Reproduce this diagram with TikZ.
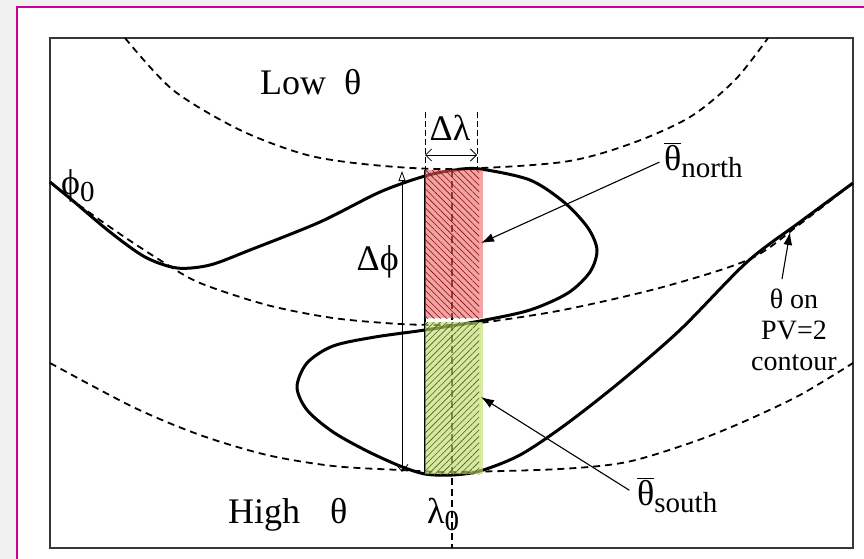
\documentclass[tikz,border=0pt]{standalone}
\usepackage{fontspec}
\setmainfont{Liberation Serif}
\usetikzlibrary{arrows.meta}
\usetikzlibrary{patterns.meta}
\definecolor{pagegrey}{RGB}{240,240,240}
\definecolor{pageedge}{RGB}{204,0,153}
\definecolor{frameline}{RGB}{55,55,55}
\definecolor{northfill}{RGB}{238,100,100}
\definecolor{northhatch}{RGB}{130,15,15}
\definecolor{southfill}{RGB}{195,222,110}
\definecolor{southhatch}{RGB}{75,95,25}
\tikzset{
	mydash/.style={dashed, dash pattern=on 7pt off 5pt, line width=1.8pt},
	pvline/.style={line width=3pt, line join=round},
	pointer/.style={line width=1.1pt, -{Latex[length=13pt, width=9pt]}},
	dimline/.style={line width=0.8pt},
	lbl/.style={inner sep=0pt, font=\fontsize{36}{40}\selectfont},
	smalllbl/.style={inner sep=0pt, align=center, font=\fontsize{28}{31}\selectfont}
}
\newcommand{\thbar}{$\overline{\mbox{θ}}$}
\newcommand{\lowsub}[1]{\raisebox{-7pt}{\fontsize{29}{29}\selectfont #1}}

\begin{document}
\begin{tikzpicture}[x=1pt, y=-1pt]
	\useasboundingbox (0,0) rectangle (864,559);
	\fill[pagegrey] (0,0) rectangle (864,559);
	\draw[pageedge, line width=2pt, fill=white] (17,7.5) rectangle (880,575);
	\draw[frameline, line width=1.6pt] (50,38) rectangle (853,548);

	\coordinate (boxNW) at (425,170);
	\coordinate (boxSW) at (425,474);
	\coordinate (lamTop) at (452,170);
	\coordinate (lamBot) at (452,548);
	\coordinate (dlamL) at (425,155);
	\coordinate (dlamR) at (477,155);
	\coordinate (dphiTop) at (402,171);
	\coordinate (dphiBot) at (402,472);
	\coordinate (northtip) at (481,243);
	\coordinate (southtip) at (481,397);
	\coordinate (pvtip) at (790,232);

	\draw[mydash] plot[smooth] coordinates {(125,38) (173,90) (240,130) (307,155) (373,165) (452,169) (563,162) (630,144) (690,117) (735,80) (768,38)};
	\draw[mydash] plot[smooth] coordinates {(50,182) (72,200) (120,234) (163,262) (200,283) (267,305) (333,318) (400,324) (452,325) (480,323) (563,310) (663,287) (750,259) (800,224) (853,183)};
	\draw[mydash] plot[smooth] coordinates {(50,363) (133,407) (200,435) (267,455) (333,466) (400,470) (452,472) (560,469) (627,462) (693,442) (743,422) (800,395) (853,363)};

	\draw[pvline] plot[smooth] coordinates {(50,182) (72,200) (110,232) (145,257) (177,268) (210,265) (250,250) (320,222) (380,192) (425,176) (455,170) (480,169) (530,180) (565,203) (588,228) (597,250) (590,272) (568,293) (530,310) (480,321) (425,330) (375,337) (333,346) (307,363) (297,387) (307,410) (333,432) (367,451) (400,466) (425,474) (452,475) (480,471) (520,455) (565,425) (620,382) (680,330) (747,262) (800,222) (853,183)};

	\draw[dashed, dash pattern=on 7pt off 4pt, line width=1.4pt] (lamTop) -- (lamBot);
	\draw[line width=1.2pt] (boxNW) -- (boxSW);

	\fill[northfill, fill opacity=0.6] (425,170) rectangle (483,318);
	\fill[pattern={Lines[angle=-45, distance=4.5pt, line width=0.6pt]}, pattern color=northhatch] (425,170) rectangle (479,318);
	\fill[southfill, fill opacity=0.65] (425,322) rectangle (483,474);
	\fill[pattern={Lines[angle=45, distance=4.5pt, line width=0.6pt]}, pattern color=southhatch] (425,322) rectangle (479,474);

	\draw[dashed, dash pattern=on 6pt off 3pt, dimline] (425,112) -- (boxNW);
	\draw[dashed, dash pattern=on 6pt off 3pt, dimline] (477,112) -- (477,170);
	\draw[dimline, {Straight Barb[length=6pt, width=12pt]}-{Straight Barb[length=6pt, width=12pt]}] (dlamL) -- (dlamR);
	\draw[dimline, {Triangle[open, length=10pt, width=7pt]}-{Straight Barb[length=7pt, width=12pt]}] (dphiTop) -- (dphiBot);

	\node[lbl, anchor=base west] (low) at (260,95) {Low\hspace{18pt}θ};
	\node[lbl, anchor=base west] (high) at (228,523) {High\hspace{30pt}θ};
	\node[lbl, anchor=base west] (phi0) at (61,194) {ϕ\lowsub{0}};
	\node[lbl, anchor=base east] (dphi) at (399,270) {Δϕ};
	\node[lbl, anchor=base] (dlam) at (450,140) {Δλ};
	\node[lbl, anchor=base west] (lam0) at (427,523) {λ\lowsub{0}};
	\node[lbl, anchor=base west] (north) at (664,170) {\thbar\lowsub{north}};
	\node[lbl, anchor=base west] (south) at (637,505) {\thbar\lowsub{south}};
	\node[smalllbl, anchor=north] (pvlabel) at (794,289) {θ on\\PV=2\\contour};

	\draw[pointer, shorten <=5pt] (north.west) -- (northtip);
	\draw[pointer, shorten <=9pt] (south.west) -- (southtip);
	\draw[pointer] ([xshift=-12pt, yshift=10pt]pvlabel.north) -- (pvtip);
\end{tikzpicture}
\end{document}
